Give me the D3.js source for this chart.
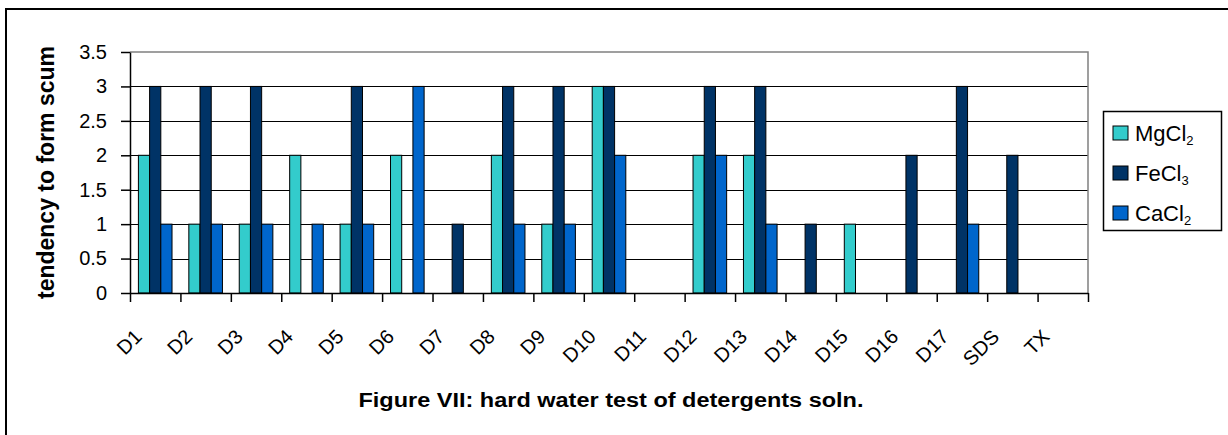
<!DOCTYPE html>
<html>
<head>
<meta charset="utf-8">
<script src="https://cdn.jsdelivr.net/npm/d3@7/dist/d3.min.js"></script>
<style>
  html, body { margin: 0; padding: 0; background: #fff; }
  svg { display: block; font-family: "Liberation Sans", Arial, sans-serif; }
</style>
</head>
<body>
<svg id="chart" width="1228" height="435"></svg>
<script>
const categories = ["D1","D2","D3","D4","D5","D6","D7","D8","D9","D10","D11","D12","D13","D14","D15","D16","D17","SDS","TX"];
const mgcl2 = [2,1,1,2,1,2,0,2,1,3,0,2,2,0,1,0,0,0,0];
const fecl3 = [3,3,3,0,3,0,1,3,3,3,0,3,3,1,0,2,3,2,0];
const cacl2 = [1,1,1,1,1,3,0,1,1,2,0,2,1,0,0,0,1,0,0];
const seriesNames = ["MgCl","FeCl","CaCl"];
const seriesSubs = ["2","3","2"];
const seriesColors = ["#33CCCC","#003366","#0066CC"];
const yTicks = [0,0.5,1,1.5,2,2.5,3,3.5];
const yTickLabels = ["0","0.5","1","1.5","2","2.5","3","3.5"];
const yTitle = "tendency to form scum";
const chartTitle = "Figure VII: hard water test of detergents soln.";

const seriesValues = [mgcl2, fecl3, cacl2];
const svg = d3.select("#chart");
svg.append("rect").attr("width",1228).attr("height",435).attr("fill","#fff");
// outer chart border (extends past the right/bottom edge)
svg.append("rect").attr("x",6).attr("y",9).attr("width",1260).attr("height",470)
  .attr("fill","none").attr("stroke","#000").attr("stroke-width",2);

const L = 130, R = 1088, T = 52, B = 293;
const y = d3.scaleLinear().domain([0,3.5]).range([B,T]);
const x0 = d3.scaleBand().domain(categories).range([L,R]);
const x1 = d3.scaleBand().domain([0,1,2]).range([0,x0.bandwidth()]).paddingInner(0).paddingOuter(0.75);
const xIdx = d3.scaleLinear().domain([0,categories.length]).range([L,R]);

// gridlines
svg.append("g").selectAll("line").data(yTicks.filter(d=>d>0 && d<3.5)).join("line")
  .attr("x1",L).attr("x2",R).attr("y1",d=>Math.round(y(d))+0.5).attr("y2",d=>Math.round(y(d))+0.5)
  .attr("stroke","#000").attr("stroke-width",1);
// plot border top/right (grey)
svg.append("path").attr("d",`M${L},${y(3.5)}H${R}V${B}`).attr("fill","none")
  .attr("stroke","#808080").attr("stroke-width",1.5);

// bars
const barData = [];
categories.forEach((c,i)=>seriesValues.forEach((vals,s)=>{ if (vals[i] > 0) barData.push({c, s, v: vals[i]}); }));
svg.append("g").selectAll("rect").data(barData).join("rect")
  .attr("x",d=>x0(d.c)+x1(d.s)).attr("width",x1.bandwidth())
  .attr("y",d=>y(d.v)).attr("height",d=>y(0)-y(d.v))
  .attr("fill",d=>seriesColors[d.s]).attr("stroke","#000").attr("stroke-width",1);

// y axis
const yAxis = svg.append("g").attr("transform",`translate(${L},0)`)
  .call(d3.axisLeft(y).tickValues(yTicks).tickFormat((d,i)=>yTickLabels[i]).tickSize(9).tickSizeOuter(0).tickPadding(14));
yAxis.selectAll("text").attr("font-size",20).attr("fill","#000").attr("font-family","Liberation Sans, Arial, sans-serif");
yAxis.selectAll("line,path").attr("stroke","#000").attr("stroke-width",1.5);

// x axis (ticks at category boundaries)
const xAxis = svg.append("g").attr("transform",`translate(0,${B})`)
  .call(d3.axisBottom(xIdx).tickValues(d3.range(categories.length+1)).tickFormat("").tickSize(9).tickSizeOuter(0));
xAxis.selectAll("line,path").attr("stroke","#000").attr("stroke-width",1.5);

// x labels rotated
svg.append("g").selectAll("text").data(categories).join("text")
  .attr("transform",d=>`translate(${x0(d)+x0.bandwidth()/2-12},338) rotate(-45)`)
  .attr("text-anchor","end").attr("font-size",20).attr("fill","#000").text(d=>d);

// y title
svg.append("text").attr("transform",`translate(54,${(T+B)/2}) rotate(-90)`)
  .attr("text-anchor","middle").attr("font-size",23).attr("font-weight","bold").text(yTitle);

// chart title
svg.append("text").attr("x",611).attr("y",407).attr("text-anchor","middle")
  .attr("font-size",20).attr("font-weight","bold")
  .attr("textLength",505).attr("lengthAdjust","spacingAndGlyphs").text(chartTitle);

// legend
const lg = svg.append("g");
lg.append("rect").attr("x",1103.5).attr("y",111.5).attr("width",118).attr("height",119)
  .attr("fill","#fff").attr("stroke","#000").attr("stroke-width",1.5);
const rows = lg.selectAll("g.row").data(seriesNames).join("g").attr("class","row")
  .attr("transform",(d,i)=>`translate(1113,${133+i*40})`);
rows.append("rect").attr("x",0).attr("y",-7).attr("width",15).attr("height",14)
  .attr("fill",(d,i)=>seriesColors[i]).attr("stroke","#000").attr("stroke-width",1);
const lt = rows.append("text").attr("x",22).attr("y",8).attr("font-size",22).attr("fill","#000");
lt.append("tspan").text(d=>d);
lt.append("tspan").attr("font-size",13).attr("dy",4).text((d,i)=>seriesSubs[i]);
</script>
</body>
</html>
